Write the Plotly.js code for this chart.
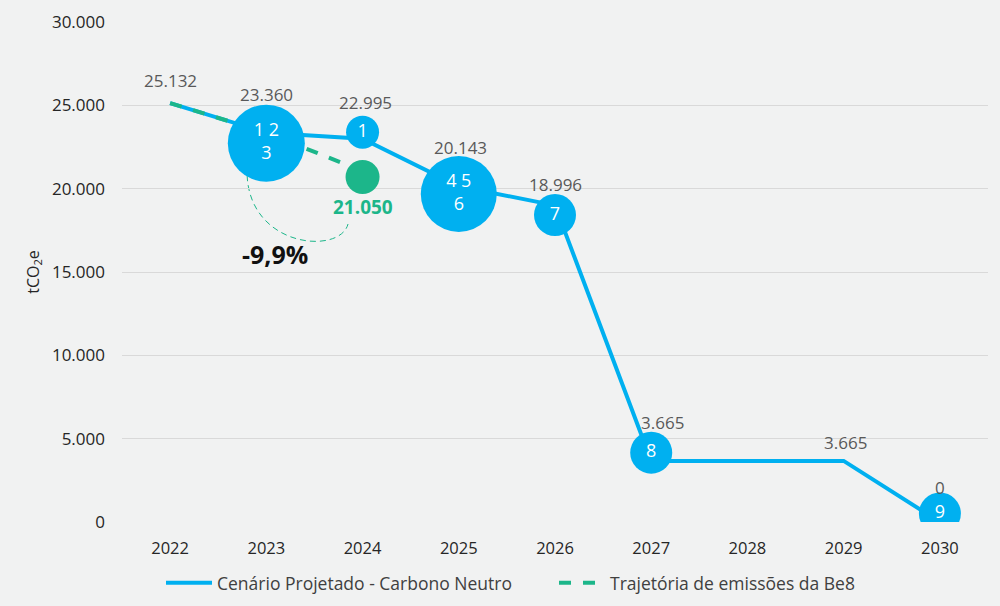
<!DOCTYPE html>
<html>
<head>
<meta charset="utf-8">
<script src="https://cdn.plot.ly/plotly-3.0.1.min.js"></script>
<style>html,body{margin:0;padding:0;background:#f1f2f2;}#chart{width:1000px;height:606px;}</style>
</head>
<body>
<div id="chart"></div>
<script>
// ---- data ----
const years = [2022, 2023, 2024, 2025, 2026, 2027, 2028, 2029, 2030];
const cenarioValues = [25132, 23360, 22995, 20143, 18996, 3665, 3665, 3665, 0];
const labelYears = [2022, 2023, 2024, 2025, 2026, 2027, 2029, 2030];
const labelValues = [25132, 23360, 22995, 20143, 18996, 3665, 3665, 0];
const trajYears = [2022, 2023, 2024];
const trajValues = [25132, 23360, 21050];
const bubbleYears = [2023, 2024, 2025, 2026, 2027, 2030];
const bubbleValues = [22730, 23390, 19680, 18420, 4160, 510];
const bubbleTexts = ['1 2<br>3', '1', '4 5<br>6', '7', '8', '9'];
const be8Year = [2024];
const be8Value = [20700];
const changeText = '-9,9%';
const seriesNames = ['Cenário Projetado - Carbono Neutro', 'Trajetória de emissões da Be8'];

// ---- styles ----
const BLUE = '#00b0f0', GREEN = '#1cb68a', BG = '#f1f2f2';
const FONT = 'Open Sans, sans-serif';
const bubbleSizes = [77, 33, 76, 42, 42, 42];
const labelShift = [23, 38, 36, 39, 21, 38, 18, 35];
const labelXShift = [0, 0, 3, 2, 0, 11, 2, 0];

const traces = [
  {x: years, y: cenarioValues, type: 'scatter', mode: 'lines', name: seriesNames[0],
   line: {color: BLUE, width: 4}, hoverinfo: 'skip', legend: 'legend'},
  {x: trajYears, y: trajValues, type: 'scatter', mode: 'lines', name: seriesNames[1],
   line: {color: GREEN, width: 4, dash: 'dash'}, hoverinfo: 'skip', legend: 'legend2'},
  {x: bubbleYears, y: bubbleValues, type: 'scatter', mode: 'markers+text', showlegend: false,
   marker: {color: BLUE, size: bubbleSizes, opacity: 1, line: {width: 0}}, text: bubbleTexts,
   textposition: 'middle center', textfont: {color: '#ffffff', size: 18, family: FONT},
   hoverinfo: 'skip'},
  {x: be8Year, y: be8Value, type: 'scatter', mode: 'markers', showlegend: false,
   marker: {color: GREEN, size: 34, opacity: 1}, hoverinfo: 'skip'}
];

function fmtNum(v){
  return String(v).replace(/\B(?=(\d{3})+(?!\d))/g, '.');
}

const annotations = labelYears.map((yr, i) => ({
  x: yr, y: labelValues[i], xref: 'x', yref: 'y', text: fmtNum(labelValues[i]),
  showarrow: false, yshift: labelShift[i], xshift: labelXShift[i],
  font: {size: 17, color: '#595959', family: FONT}
}));
annotations.push({
  x: be8Year[0], y: trajValues[2], xref: 'x', yref: 'y', text: '<b>' + fmtNum(trajValues[2]) + '</b>',
  showarrow: false, yshift: -36, font: {size: 19, color: GREEN, family: FONT}
});
annotations.push({
  x: 2023.095, y: 16100, xref: 'x', yref: 'y', text: '<b>' + changeText + '</b>',
  showarrow: false, font: {size: 25, color: '#111111', family: FONT}
});

const legendBase = {orientation: 'h', xanchor: 'left', xref: 'container',
  y: 0.038, yanchor: 'middle', yref: 'container',
  font: {size: 17.5, color: '#404040'}, bgcolor: 'rgba(0,0,0,0)', itemwidth: 46};

const layout = {
  width: 1000, height: 606,
  paper_bgcolor: BG, plot_bgcolor: BG,
  margin: {l: 122, r: 12, t: 22, b: 83.5},
  separators: ',.',
  font: {family: FONT, color: '#262626', size: 16},
  xaxis: {range: [2021.5, 2030.5], tickvals: years, ticktext: years.map(String),
    showgrid: false, zeroline: false, showline: false, ticks: '', fixedrange: true,
    tickfont: {size: 16.5, color: '#262626'}, ticklabelstandoff: 14},
  yaxis: {range: [0, 30000], dtick: 5000, tickformat: ',d', showgrid: true,
    gridcolor: '#d9d9d9', gridwidth: 1, zeroline: false, showline: false, ticks: '',
    tickfont: {size: 17, color: '#262626'}, ticklabelstandoff: 16,
    title: {text: 'tCO<sub>2</sub>e', font: {size: 16, color: '#262626'}, standoff: 8}
  },
  showlegend: true,
  legend: Object.assign({}, legendBase, {x: 0.161}),
  legend2: Object.assign({}, legendBase, {x: 0.554}),
  annotations: annotations,
  shapes: [{
    type: 'path', xref: 'x', yref: 'y',
    path: 'M 2022.800 20815 C 2022.831 16443 2023.766 16023 2023.849 17880',
    line: {color: GREEN, width: 1, dash: '6px,4px'}, layer: 'below'
  }]
};

Plotly.newPlot('chart', traces, layout, {displayModeBar: false, staticPlot: true});
</script>
</body>
</html>
